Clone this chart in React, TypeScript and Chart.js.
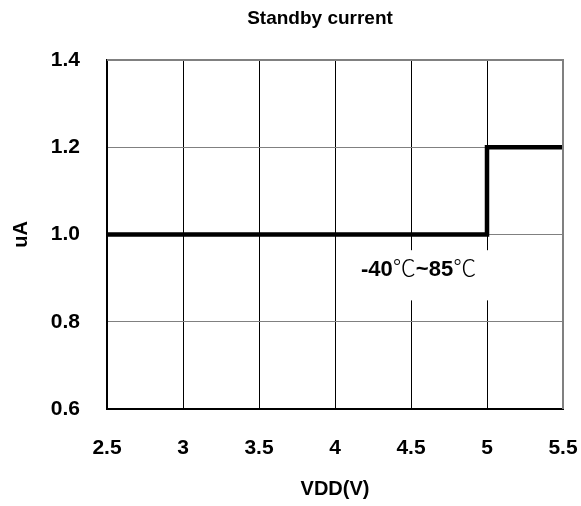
import React, { useEffect, useRef } from "react";
import { Chart, registerables } from "chart.js";

Chart.register(...registerables);

const vdd = [2.5, 5.0, 5.0, 5.5];
const current = [1.0, 1.0, 1.2, 1.2];
const xTicks = [2.5, 3, 3.5, 4, 4.5, 5, 5.5];
const yTicks = [0.6, 0.8, 1.0, 1.2, 1.4];
const titleText = "Standby current";
const xTitle = "VDD(V)";
const yTitle = "uA";
const noteParts = ["-40", "℃", "~85", "℃"];

const FONT = "'Liberation Sans', Arial, 'Noto Sans CJK SC', sans-serif";
const CJK = "'Noto Sans CJK SC', 'DejaVu Sans', sans-serif";

export default function App() {
  const ref = useRef<HTMLCanvasElement | null>(null);

  useEffect(() => {
    if (!ref.current) return;
    const textPlugin = {
      id: "texts",
      afterDraw(chart: any) {
        const { ctx, chartArea, scales } = chart;
        const xs = scales.x;
        const ys = scales.y;
        ctx.save();
        ctx.strokeStyle = "#808080";
        ctx.lineWidth = 2;
        ctx.beginPath();
        ctx.moveTo(chartArea.left, chartArea.top);
        ctx.lineTo(chartArea.right, chartArea.top);
        ctx.lineTo(chartArea.right, chartArea.bottom);
        ctx.stroke();
        const bx1 = xs.getPixelForValue(4.07);
        const bx2 = xs.getPixelForValue(5.03);
        const by1 = ys.getPixelForValue(0.964);
        const by2 = ys.getPixelForValue(0.849);
        ctx.fillStyle = "#fff";
        ctx.fillRect(bx1, by1, bx2 - bx1, by2 - by1);
        ctx.fillStyle = "#000";
        ctx.textBaseline = "alphabetic";
        const fonts = noteParts.map((p) =>
          p === "℃" ? `300 23px ${CJK}` : `bold 22px ${FONT}`
        );
        let total = 0;
        const widths = noteParts.map((p, i) => {
          ctx.font = fonts[i];
          const w = ctx.measureText(p).width;
          total += w;
          return w;
        });
        let cx = xs.getPixelForValue(4.55) - total / 2;
        const baseY = ys.getPixelForValue(0.9225) + 8;
        ctx.textAlign = "left";
        noteParts.forEach((p, i) => {
          ctx.font = fonts[i];
          ctx.fillText(p, cx, baseY);
          cx += widths[i];
        });
        ctx.textAlign = "center";
        ctx.textBaseline = "middle";
        ctx.font = `bold 19px ${FONT}`;
        ctx.fillText(titleText, 320, 19);
        ctx.font = `bold 20px ${FONT}`;
        ctx.fillText(xTitle, (chartArea.left + chartArea.right) / 2, 489);
        ctx.translate(21, (chartArea.top + chartArea.bottom) / 2);
        ctx.rotate(-Math.PI / 2);
        ctx.fillText(yTitle, 0, 0);
        ctx.restore();
      },
    };

    const chart = new Chart(ref.current, {
      type: "line",
      data: {
        datasets: [
          {
            data: vdd.map((x, i) => ({ x, y: current[i] })),
            borderColor: "#000",
            borderWidth: 4.5,
            pointRadius: 0,
            fill: false,
            tension: 0,
          },
        ],
      },
      options: {
        animation: false,
        responsive: false,
        layout: { padding: { top: 60, right: 18, left: 0, bottom: 0 } },
        plugins: { legend: { display: false }, tooltip: { enabled: false } },
        scales: {
          x: {
            type: "linear",
            min: 2.5,
            max: 5.5,
            afterBuildTicks: (s: any) => {
              s.ticks = xTicks.map((v) => ({ value: v }));
            },
            afterFit: (s: any) => {
              s.height = 97;
              s.paddingLeft = 0;
              s.paddingRight = 0;
            },
            ticks: {
              color: "#000",
              font: { family: FONT, size: 21, weight: "bold" },
              padding: 27,
              maxRotation: 0,
              callback: (v: any) => String(v),
            },
            grid: { color: "#000", lineWidth: 1, drawTicks: false },
            border: { display: true, color: "#000", width: 2 },
          },
          y: {
            type: "linear",
            min: 0.6,
            max: 1.4,
            afterBuildTicks: (s: any) => {
              s.ticks = yTicks.map((v) => ({ value: v }));
            },
            afterFit: (s: any) => {
              s.width = 107;
              s.paddingTop = 0;
              s.paddingBottom = 0;
            },
            ticks: {
              color: "#000",
              font: { family: FONT, size: 21, weight: "bold" },
              padding: 27,
              callback: (v: any) => Number(v).toFixed(1),
            },
            grid: { color: "#808080", lineWidth: 1, drawTicks: false },
            border: { display: true, color: "#000", width: 2 },
          },
        },
      },
      plugins: [textPlugin],
    });
    return () => chart.destroy();
  }, []);

  return (
    <div style={{ position: "fixed", left: 0, top: 0, width: 581, height: 506, background: "#fff" }}>
      <canvas ref={ref} width={581} height={506} style={{ width: 581, height: 506, display: "block" }} />
    </div>
  );
}
